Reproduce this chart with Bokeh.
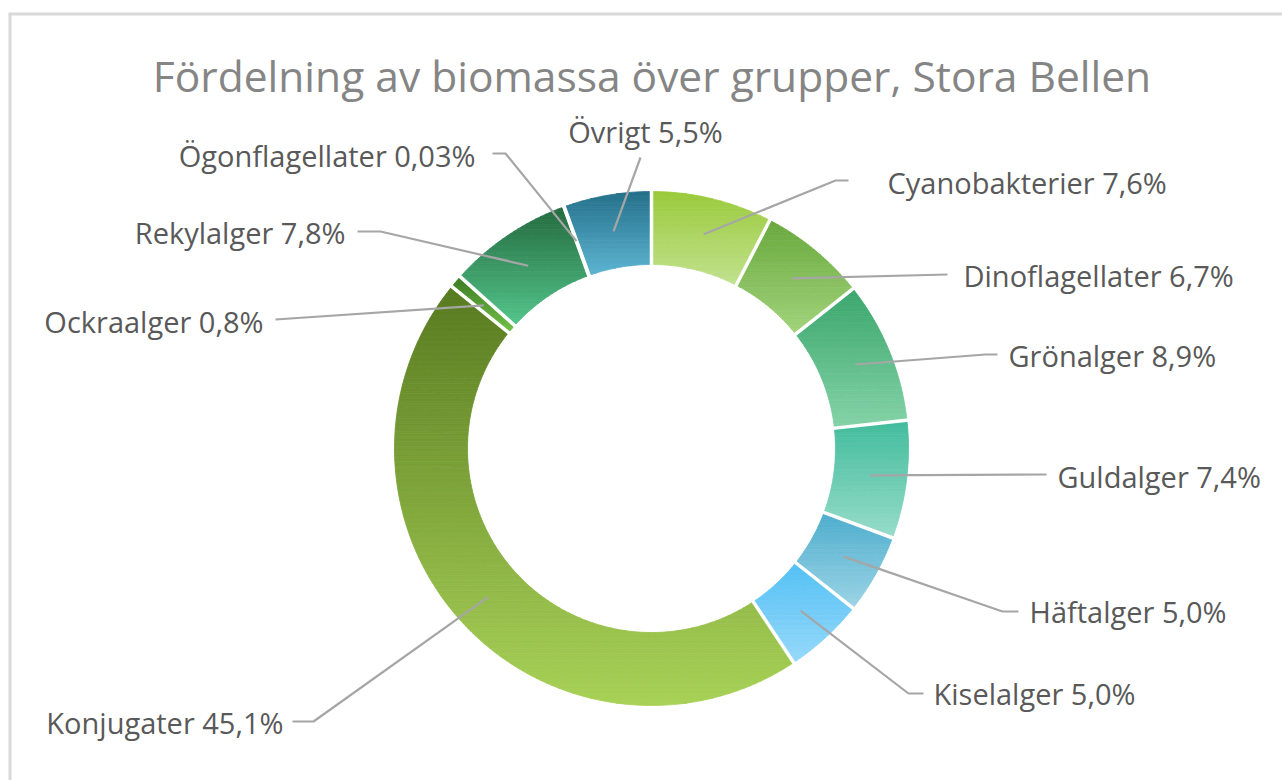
import math
from bokeh.plotting import figure
from bokeh.models import Range1d
from bokeh.core.properties import value
from bokeh.embed import file_html
from bokeh.resources import INLINE

# ---------------- data ----------------
categories = ["Cyanobakterier", "Dinoflagellater", "Grönalger", "Guldalger",
              "Häftalger", "Kiselalger", "Konjugater", "Ockraalger",
              "Rekylalger", "Ögonflagellater", "Övrigt"]
values = [7.6, 6.7, 8.9, 7.4, 5.0, 5.0, 45.1, 0.8, 7.8, 0.03, 5.5]
pct_labels = ["7,6%", "6,7%", "8,9%", "7,4%", "5,0%", "5,0%", "45,1%",
              "0,8%", "7,8%", "0,03%", "5,5%"]
title_text = "Fördelning av biomassa över grupper, Stora Bellen"

# gradient colours (top -> bottom of each segment)
top_colors = ["#9ACB3C", "#69A83D", "#3AA66C", "#42BC9C", "#4DAECD", "#52C0F4",
              "#587A20", "#3C7A22", "#236A3F", "#2F7F55", "#24708A"]
bottom_colors = ["#C2E18F", "#A2D47C", "#85D3A8", "#97DCCA", "#9DD4E6", "#97D9FA",
                 "#A8D257", "#72C248", "#54C68C", "#5BBF8A", "#5DB5D2"]

# ---------------- layout (screen pixels) ----------------
W, H = 1282, 780
OX, OY = 0, 0


def dx(px):
    return px - OX


def dy(py):
    return (OY + H) - py


CX, CY = dx(651), dy(448)
R_OUT, R_IN = 257, 184
R_MID = (R_OUT + R_IN) / 2

# label placement: (anchor x, vertical centre y, align)
label_pos = [(887, 182, "left"), (963, 275, "left"), (1008, 355, "left"),
             (1057, 476, "left"), (1029, 611, "left"), (933, 693, "left"),
             (283, 722, "right"), (263, 321, "right"), (345, 232, "right"),
             (475, 155, "right"), (645, 131, "center")]
# leader line points after the start point inside the segment
leader_tail = [[(835, 180), (848, 180)], [(947, 274)], [(985, 354), (997, 354)],
               [(1046, 474)], [(1002, 611), (1018, 611)], [(908, 693), (923, 693)],
               [(313, 721), (292, 721)], [(275, 319)], [(380, 231), (357, 231)],
               [(505, 153), (492, 153)], [(640, 157)]]

p = figure(width=W, height=H, output_backend="svg", toolbar_location=None,
           x_range=Range1d(0, W), y_range=Range1d(0, H),
           min_border=0, min_border_left=0, min_border_right=0,
           min_border_top=0, min_border_bottom=0)
p.axis.visible = False
p.grid.visible = False
p.outline_line_color = None
p.background_fill_color = "white"
p.border_fill_color = "white"

# chart frame border (top and left edges visible)
p.line([dx(9.5), dx(9.5)], [dy(13.5), dy(800)], line_color="#D9D9D9", line_width=3)
p.line([dx(8), dx(1300)], [dy(13.5), dy(13.5)], line_color="#D9D9D9", line_width=3)


def hex2rgb(h):
    h = h.lstrip("#")
    return tuple(int(h[i:i + 2], 16) for i in (0, 2, 4))


def mix(c1, c2, t):
    a, b = hex2rgb(c1), hex2rgb(c2)
    return "#%02x%02x%02x" % tuple(int(round(a[i] + (b[i] - a[i]) * t)) for i in range(3))


def clip(poly, y0, keep_above):
    out = []
    n = len(poly)
    for i in range(n):
        cur, prev = poly[i], poly[i - 1]
        cin = cur[1] >= y0 if keep_above else cur[1] <= y0
        pin = prev[1] >= y0 if keep_above else prev[1] <= y0
        if cin:
            if not pin:
                t = (y0 - prev[1]) / (cur[1] - prev[1])
                out.append((prev[0] + t * (cur[0] - prev[0]), y0))
            out.append(cur)
        elif pin:
            t = (y0 - prev[1]) / (cur[1] - prev[1])
            out.append((prev[0] + t * (cur[0] - prev[0]), y0))
    return out


def theta(frac):
    return math.pi / 2 - 2 * math.pi * frac


def ring_pt(rad, frac):
    th = theta(frac)
    return (CX + rad * math.cos(th), CY + rad * math.sin(th))


total = sum(values)
fracs = [v / total for v in values]
starts = []
acc = 0.0
for f in fracs:
    starts.append(acc)
    acc += f

band_xs, band_ys, band_cols = [], [], []
for i, f in enumerate(fracs):
    a0, a1 = starts[i], starts[i] + f
    # vertical extent of the whole segment (for the gradient)
    samp = [ring_pt(rr, a0 + (a1 - a0) * k / 200) for rr in (R_IN, R_OUT) for k in range(201)]
    ymin = min(pt[1] for pt in samp)
    ymax = max(pt[1] for pt in samp)
    nb = max(1, int(math.ceil((ymax - ymin) / 2.5)))
    hgt = (ymax - ymin) / nb
    # split into small angular sub-sectors (almost convex)
    nsub = max(1, int(math.ceil(f * 360 / 5)))
    for s in range(nsub):
        s0 = a0 + (a1 - a0) * s / nsub
        s1 = a0 + (a1 - a0) * (s + 1) / nsub
        m = 6
        outer = [ring_pt(R_OUT, s0 + (s1 - s0) * k / m) for k in range(m + 1)]
        inner = [ring_pt(R_IN, s1 - (s1 - s0) * k / m) for k in range(m + 1)]
        poly = outer + inner
        pmin = min(pt[1] for pt in poly)
        pmax = max(pt[1] for pt in poly)
        for b in range(nb):
            lo = ymin + b * hgt
            hi = lo + hgt
            if hi < pmin or lo > pmax:
                continue
            piece = clip(clip(poly, lo, True), hi, False)
            if len(piece) < 3:
                continue
            t = (ymax - (lo + hi) / 2) / (ymax - ymin) if ymax > ymin else 0.5
            band_xs.append([pt[0] for pt in piece])
            band_ys.append([pt[1] for pt in piece])
            band_cols.append(mix(top_colors[i], bottom_colors[i], t))

p.patches(band_xs, band_ys, fill_color=band_cols, line_color=band_cols, line_width=0.8)

# white separators between segments
sep_x0, sep_y0, sep_x1, sep_y1 = [], [], [], []
for a in starts:
    x0, y0 = ring_pt(R_IN - 4, a)
    x1, y1 = ring_pt(R_OUT + 4, a)
    sep_x0.append(x0)
    sep_y0.append(y0)
    sep_x1.append(x1)
    sep_y1.append(y1)
p.segment(sep_x0, sep_y0, sep_x1, sep_y1, line_color="white", line_width=3.5)

# leader lines
lxs, lys = [], []
for i, f in enumerate(fracs):
    sx, sy = ring_pt(R_MID, starts[i] + f / 2)
    lxs.append([sx] + [dx(pt[0]) for pt in leader_tail[i]])
    lys.append([sy] + [dy(pt[1]) for pt in leader_tail[i]])
p.multi_line(lxs, lys, line_color="#A6A6A6", line_width=2.2)

# data labels
for align in ("left", "right", "center"):
    idx = [i for i in range(len(categories)) if label_pos[i][2] == align]
    if not idx:
        continue
    p.text(x=[dx(label_pos[i][0]) for i in idx],
           y=[dy(label_pos[i][1]) for i in idx],
           text=[categories[i] + " " + pct_labels[i] for i in idx],
           text_font=value("Open Sans"), text_font_size=value("29px"),
           text_color="#595959", text_align=align, text_baseline="middle")

# title
p.text(x=[dx(651.5)], y=[dy(75)], text=[title_text],
       text_font=value("Open Sans"), text_font_size=value("42.5px"),
       text_color="#858585", text_align="center", text_baseline="middle")

open("out.html", "w").write(file_html(p, INLINE))
